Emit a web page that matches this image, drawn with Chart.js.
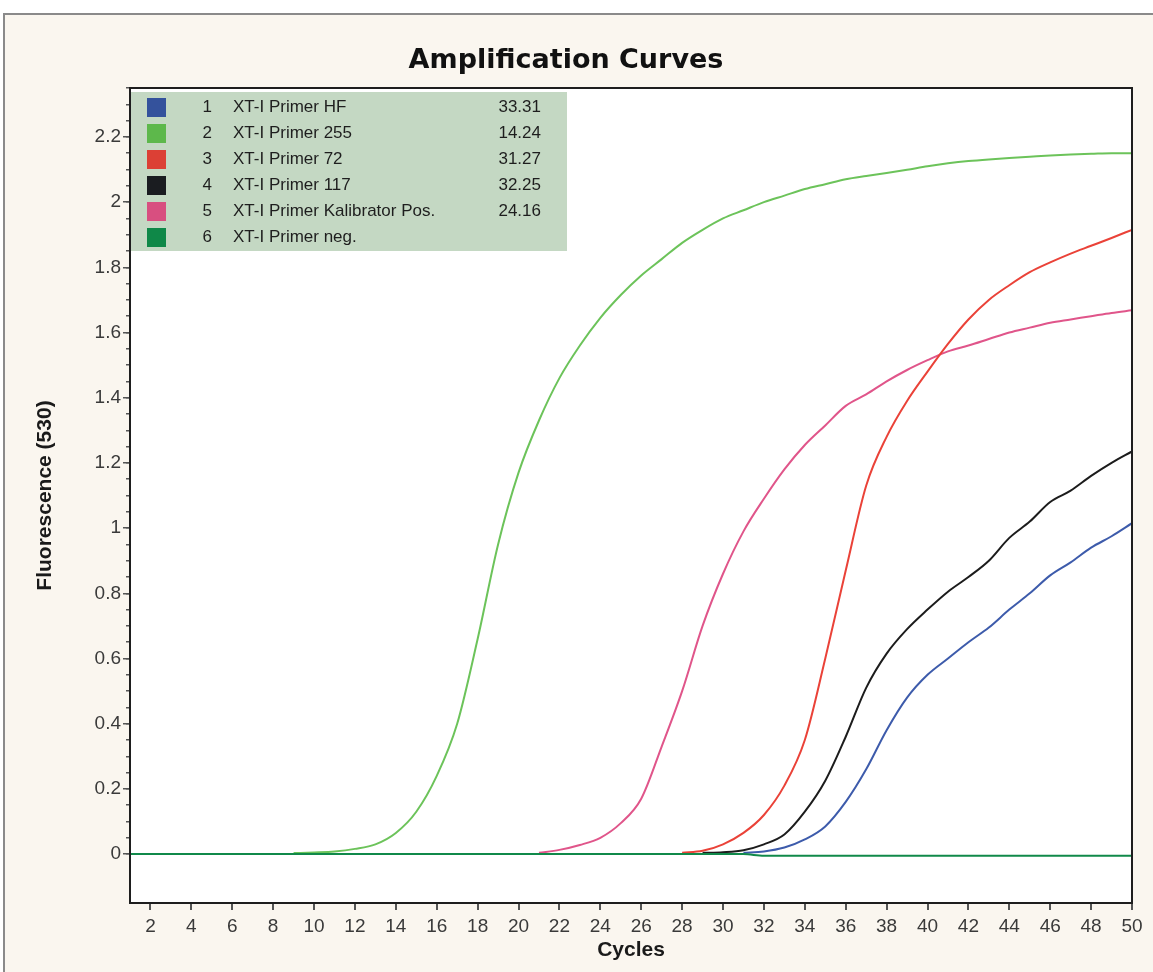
<!DOCTYPE html>
<html>
<head>
<meta charset="utf-8">
<title>Amplification Curves</title>
<script src="https://cdn.jsdelivr.net/npm/chart.js@4.4.1/dist/chart.umd.min.js"></script>
<style>
  html, body { margin: 0; padding: 0; background: #fff; }
  #wrap { width: 1153px; height: 972px; }
</style>
</head>
<body>
<div id="wrap"><canvas id="amp" width="1153" height="972"></canvas></div>
<script>
'use strict';

// cycle numbers (x) and the axis ticks
const cycles = [1, 2, 3, 4, 5, 6, 7, 8, 9, 10, 11, 12, 13, 14, 15, 16, 17, 18, 19, 20,
  21, 22, 23, 24, 25, 26, 27, 28, 29, 30, 31, 32, 33, 34, 35, 36, 37, 38, 39, 40,
  41, 42, 43, 44, 45, 46, 47, 48, 49, 50];
const xTicks = [2, 4, 6, 8, 10, 12, 14, 16, 18, 20, 22, 24, 26, 28, 30, 32, 34, 36, 38, 40, 42, 44, 46, 48, 50];
const yTicks = [0, 0.2, 0.4, 0.6, 0.8, 1, 1.2, 1.4, 1.6, 1.8, 2, 2.2];

// runs shown in the legend panel
const runNumbers = ['1', '2', '3', '4', '5', '6'];
const runNames = ['XT-I Primer HF', 'XT-I Primer 255', 'XT-I Primer 72', 'XT-I Primer 117',
  'XT-I Primer Kalibrator Pos.', 'XT-I Primer neg.'];
const runCt = ['33.31', '14.24', '31.27', '32.25', '24.16', ''];
const swatchColors = ['#34529c', '#5db84b', '#dc4035', '#1a1c20', '#d84f80', '#0f8848'];
const lineColors = ['#3d5bab', '#6cc35a', '#ea4238', '#1c1c1c', '#e0558a', '#10894a'];

// fluorescence (530) per cycle, null before the curve leaves the baseline
const primerHF = [null, null, null, null, null, null, null, null, null, null,
  null, null, null, null, null, null, null, null, null, null,
  null, null, null, null, null, null, null, null, null, null,
  0.004, 0.008, 0.02, 0.045, 0.085, 0.16, 0.26, 0.38, 0.48, 0.55,
  0.60, 0.65, 0.695, 0.75, 0.80, 0.855, 0.895, 0.94, 0.975, 1.015];
const primer255 = [null, null, null, null, null, null, null, null, 0.003, 0.005,
  0.008, 0.016, 0.03, 0.065, 0.13, 0.24, 0.4, 0.66, 0.95, 1.17,
  1.33, 1.46, 1.56, 1.645, 1.715, 1.775, 1.825, 1.875, 1.915, 1.95,
  1.975, 2.0, 2.02, 2.04, 2.055, 2.07, 2.08, 2.089, 2.099, 2.11,
  2.119, 2.126, 2.131, 2.135, 2.139, 2.143, 2.146, 2.148, 2.15, 2.15];
const primer72 = [null, null, null, null, null, null, null, null, null, null,
  null, null, null, null, null, null, null, null, null, null,
  null, null, null, null, null, null, null, 0.004, 0.01, 0.03,
  0.065, 0.12, 0.21, 0.35, 0.6, 0.87, 1.13, 1.28, 1.39, 1.48,
  1.565, 1.64, 1.7, 1.745, 1.785, 1.815, 1.842, 1.866, 1.89, 1.915];
const primer117 = [null, null, null, null, null, null, null, null, null, null,
  null, null, null, null, null, null, null, null, null, null,
  null, null, null, null, null, null, null, null, 0.004, 0.006,
  0.012, 0.03, 0.06, 0.13, 0.225, 0.36, 0.51, 0.615, 0.69, 0.75,
  0.805, 0.85, 0.9, 0.97, 1.02, 1.08, 1.115, 1.16, 1.2, 1.235];
const kalibratorPos = [null, null, null, null, null, null, null, null, null, null,
  null, null, null, null, null, null, null, null, null, null,
  0.004, 0.013, 0.028, 0.05, 0.095, 0.17, 0.33, 0.5, 0.7, 0.86,
  0.99, 1.09, 1.18, 1.255, 1.315, 1.375, 1.41, 1.45, 1.485, 1.515,
  1.542, 1.56, 1.58, 1.6, 1.615, 1.63, 1.64, 1.65, 1.66, 1.668];
const primerNeg = [0, 0, 0, 0, 0, 0, 0, 0, 0, 0,
  0, 0, 0, 0, 0, 0, 0, 0, 0, 0,
  0, 0, 0, 0, 0, 0, 0, 0, 0, 0,
  0, -0.005, -0.005, -0.005, -0.005, -0.005, -0.005, -0.005, -0.005, -0.005,
  -0.005, -0.005, -0.005, -0.005, -0.005, -0.005, -0.005, -0.005, -0.005, -0.005];

const runSeries = [primerHF, primer255, primer72, primer117, kalibratorPos, primerNeg];

const SANS = '"Liberation Sans", Arial, sans-serif';

// cream page, thin grey frame and the white plot area
const backdrop = {
  id: 'backdrop',
  beforeDraw(chart) {
    const { ctx, width, height, chartArea: a } = chart;
    ctx.save();
    ctx.fillStyle = '#ffffff';
    ctx.fillRect(0, 0, width, height);
    ctx.fillStyle = '#faf6ef';
    ctx.fillRect(5, 15, width - 5, height - 15);
    ctx.fillStyle = '#8a8a8a';
    ctx.fillRect(3, 13, width - 3, 2);
    ctx.fillRect(3, 13, 2, height - 13);
    ctx.fillStyle = '#ffffff';
    ctx.fillRect(a.left, a.top, a.right - a.left, a.bottom - a.top);
    ctx.restore();
  }
};

// legend panel in the upper-left corner of the plot, then the plot frame
const legendPanel = {
  id: 'legendPanel',
  afterDatasetsDraw(chart) {
    const { ctx, chartArea: a } = chart;
    const x0 = a.left + 1, y0 = a.top + 4;
    ctx.save();
    ctx.fillStyle = '#c4d8c3';
    ctx.fillRect(x0, y0, 436, 159);
    ctx.font = '17px ' + SANS;
    ctx.textBaseline = 'middle';
    runNames.forEach((name, i) => {
      const cy = y0 + 15.5 + i * 26;
      ctx.fillStyle = swatchColors[i];
      ctx.fillRect(x0 + 16, cy - 9.5, 19, 19);
      ctx.fillStyle = '#1e1e1e';
      ctx.textAlign = 'right';
      ctx.fillText(runNumbers[i], x0 + 81, cy);
      ctx.textAlign = 'left';
      ctx.fillText(name, x0 + 102, cy);
      ctx.textAlign = 'right';
      ctx.fillText(runCt[i], x0 + 410, cy);
    });
    ctx.strokeStyle = '#1e1e1e';
    ctx.lineWidth = 2;
    ctx.strokeRect(a.left, a.top, a.right - a.left, a.bottom - a.top);
    ctx.restore();
  }
};

const datasets = runNames.map((name, i) => ({
  label: name,
  data: runSeries[i],
  borderColor: lineColors[i],
  borderWidth: 2,
  pointRadius: 0,
  fill: false,
  cubicInterpolationMode: 'monotone',
  order: i === 5 ? 0 : 1
}));

new Chart(document.getElementById('amp'), {
  type: 'line',
  data: { labels: cycles, datasets },
  plugins: [backdrop, legendPanel],
  options: {
    responsive: false,
    animation: false,
    devicePixelRatio: 1,
    layout: { padding: { left: 0, right: 21, top: 0, bottom: 0 } },
    plugins: {
      legend: { display: false },
      tooltip: { enabled: false },
      title: {
        display: true,
        text: 'Amplification Curves',
        color: '#111',
        font: { family: '"DejaVu Sans", sans-serif', size: 27, weight: 'bold' },
        padding: { top: 45, bottom: 10.6 }
      }
    },
    scales: {
      x: {
        type: 'linear',
        min: 1,
        max: 50,
        afterBuildTicks: s => { s.ticks = xTicks.map(v => ({ value: v })); },
        afterFit: s => { s.height = 69; },
        grid: { drawOnChartArea: false, tickLength: 7, color: '#555', lineWidth: 2 },
        border: { color: '#1e1e1e', width: 2 },
        ticks: { color: '#3a3a3a', font: { family: SANS, size: 19 }, padding: 5, maxRotation: 0, autoSkip: false },
        title: {
          display: true, text: 'Cycles', color: '#1a1a1a',
          font: { family: SANS, size: 21, weight: 'bold' },
          padding: { top: 0, bottom: 9.4 }
        }
      },
      y: {
        position: 'left',
        weight: 1,
        min: -0.15,
        max: 2.35,
        afterBuildTicks: s => { s.ticks = yTicks.map(v => ({ value: v })); },
        afterFit: s => { s.width = 130; },
        grid: { drawOnChartArea: false, tickLength: 7, color: '#555', lineWidth: 1.5 },
        border: { color: '#1e1e1e', width: 2 },
        ticks: {
          color: '#3a3a3a', font: { family: SANS, size: 19 }, padding: 2, autoSkip: false,
          callback: v => String(Math.round(v * 10) / 10)
        },
        title: {
          display: true, text: 'Fluorescence (530)', color: '#1a1a1a',
          font: { family: SANS, size: 21, weight: 'bold' },
          padding: { top: 32.4, bottom: 0 }
        }
      },
      yMinor: {
        position: 'left',
        weight: 0,
        min: -0.15,
        max: 2.35,
        afterBuildTicks: s => { s.ticks = s.ticks.filter(t => t.value > -0.001); },
        afterFit: s => { s.width = 0; },
        grid: { drawOnChartArea: false, tickLength: 4, color: '#555', lineWidth: 1.5 },
        border: { display: false },
        ticks: { display: false, stepSize: 0.05, autoSkip: false }
      }
    }
  }
});
</script>
</body>
</html>
